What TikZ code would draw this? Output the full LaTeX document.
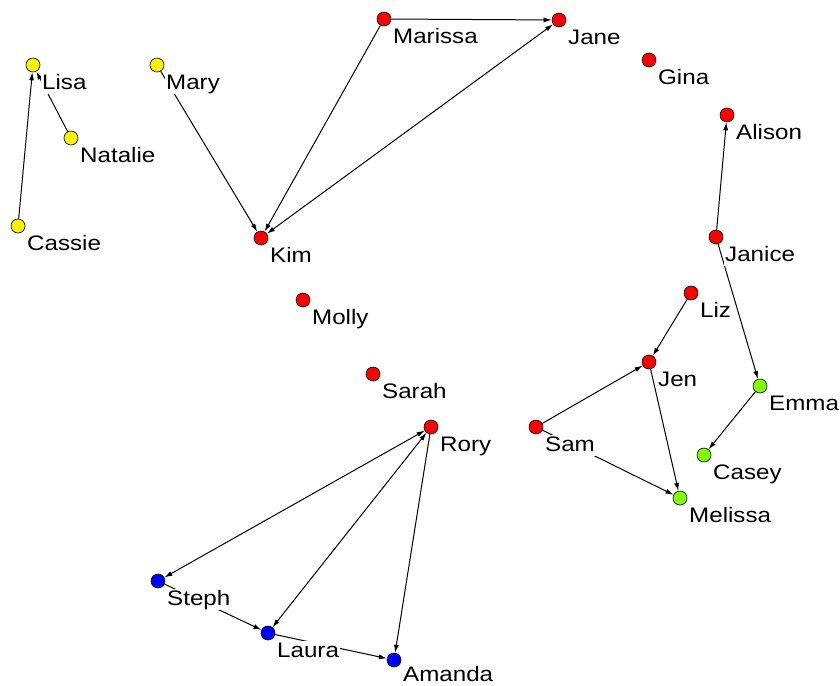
\documentclass[tikz,border=0pt]{standalone}
\usepackage{fontspec}
\setmainfont{Liberation Sans}[FakeStretch=1.15]
\usetikzlibrary{arrows.meta,positioning}
\definecolor{grp}{RGB}{128,255,0}
\tikzset{
  person/.style={draw,circle,inner sep=0pt,minimum size=14pt,line width=0.6pt},
  who/.style={fill=white,inner sep=1pt,font=\fontsize{21}{21}\selectfont,text height=15pt,text depth=4pt},
  link/.style={line width=1pt,-{Latex[length=8pt,width=5pt]}},
  mutual/.style={line width=1pt,{Latex[length=8pt,width=5pt]}-{Latex[length=8pt,width=5pt]}}
}

\begin{document}
\begin{tikzpicture}[x=1pt,y=-1pt]
\useasboundingbox (0,0) rectangle (840,685);

\node[person,fill=yellow](lisa) at (33,65) {};
\node[person,fill=yellow](natalie) at (71,138) {};
\node[person,fill=yellow](cassie) at (18,226) {};
\node[person,fill=yellow](mary) at (157,65) {};
\node[person,fill=red](kim) at (261,238) {};
\node[person,fill=red](marissa) at (384,19) {};
\node[person,fill=red](jane) at (559,20) {};
\node[person,fill=red](gina) at (649,60) {};
\node[person,fill=red](alison) at (727,115) {};
\node[person,fill=red](janice) at (716,237) {};
\node[person,fill=red](molly) at (303,300) {};
\node[person,fill=red](sarah) at (373,374) {};
\node[person,fill=red](rory) at (431,427) {};
\node[person,fill=red](liz) at (691,293) {};
\node[person,fill=red](jen) at (649,362) {};
\node[person,fill=red](sam) at (536,427) {};
\node[person,fill=grp](emma) at (760,386) {};
\node[person,fill=grp](casey) at (704,455) {};
\node[person,fill=grp](melissa) at (680,498) {};
\node[person,fill=blue](steph) at (158,581) {};
\node[person,fill=blue](laura) at (268,633) {};
\node[person,fill=blue](amanda) at (394,660) {};

\draw[link] (cassie) -- (lisa);
\draw[link] (natalie) -- (lisa);
\draw[link] (mary) -- (kim);
\draw[link] (marissa) -- (jane);
\draw[link] (marissa) -- (kim);
\draw[mutual] (kim) -- (jane);
\draw[link] (janice) -- (alison);
\draw[link] (janice) -- (emma);
\draw[link] (emma) -- (casey);
\draw[link] (liz) -- (jen);
\draw[link] (sam) -- (jen);
\draw[link] (sam) -- (melissa);
\draw[link] (jen) -- (melissa);
\draw[mutual] (rory) -- (steph);
\draw[mutual] (rory) -- (laura);
\draw[link] (rory) -- (amanda);
\draw[link] (steph) -- (laura);
\draw[link] (laura) -- (amanda);

\node[who,below right=8pt and 8pt of lisa.center](lisaL) {Lisa};
\node[who,below right=8pt and 8pt of natalie.center](natalieL) {Natalie};
\node[who,below right=8pt and 8pt of cassie.center](cassieL) {Cassie};
\node[who,below right=8pt and 8pt of mary.center](maryL) {Mary};
\node[who,below right=8pt and 8pt of kim.center](kimL) {Kim};
\node[who,below right=8pt and 8pt of marissa.center](marissaL) {Marissa};
\node[who,below right=8pt and 8pt of jane.center](janeL) {Jane};
\node[who,below right=8pt and 8pt of gina.center](ginaL) {Gina};
\node[who,below right=8pt and 8pt of alison.center](alisonL) {Alison};
\node[who,below right=8pt and 8pt of janice.center](janiceL) {Janice};
\node[who,below right=8pt and 8pt of molly.center](mollyL) {Molly};
\node[who,below right=8pt and 8pt of sarah.center](sarahL) {Sarah};
\node[who,below right=8pt and 8pt of rory.center](roryL) {Rory};
\node[who,below right=8pt and 8pt of liz.center](lizL) {Liz};
\node[who,below right=8pt and 8pt of jen.center](jenL) {Jen};
\node[who,below right=8pt and 8pt of sam.center](samL) {Sam};
\node[who,below right=8pt and 8pt of emma.center](emmaL) {Emma};
\node[who,below right=8pt and 8pt of casey.center](caseyL) {Casey};
\node[who,below right=8pt and 8pt of melissa.center](melissaL) {Melissa};
\node[who,below right=8pt and 8pt of steph.center](stephL) {Steph};
\node[who,below right=8pt and 8pt of laura.center](lauraL) {Laura};
\node[who,text depth=0pt,below right=5pt and 8pt of amanda.center](amandaL) {Amanda};
\end{tikzpicture}
\end{document}
